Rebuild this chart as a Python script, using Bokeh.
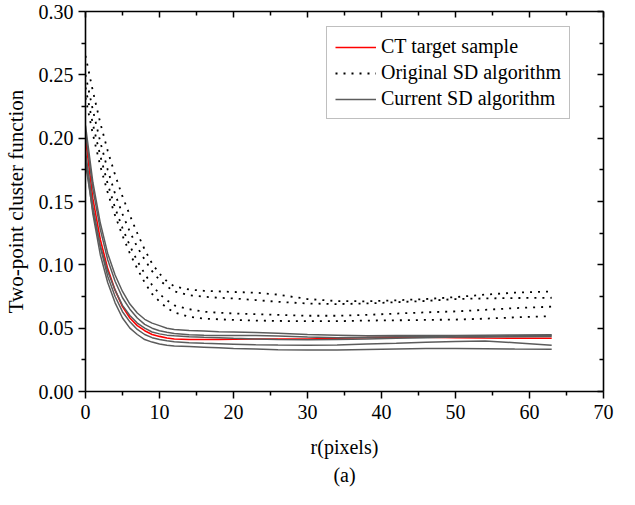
from bokeh.plotting import figure
from bokeh.models import Range1d, LinearAxis, FixedTicker, Legend, LegendItem, Title, CustomJSTickFormatter
from bokeh.embed import file_html
from bokeh.resources import INLINE

# ---- data ----
r = [0, 1, 2, 3, 4, 5, 6, 7, 8, 9, 10, 11, 12, 14, 16, 18, 20, 23, 26, 30,
     34, 38, 42, 46, 50, 54, 58, 63]

ct_target = [0.200, 0.152, 0.120, 0.097, 0.080, 0.067, 0.058, 0.052, 0.048, 0.045,
             0.0435, 0.0422, 0.0415, 0.041, 0.041, 0.041, 0.0412, 0.0415, 0.0415, 0.0415,
             0.042, 0.0425, 0.0428, 0.0428, 0.0425, 0.0422, 0.042, 0.042]

current_1 = [0.210, 0.165, 0.133, 0.109, 0.092, 0.079, 0.069, 0.062, 0.057, 0.054,
             0.052, 0.050, 0.049, 0.0482, 0.0477, 0.0472, 0.047, 0.0465, 0.046, 0.045,
             0.0445, 0.044, 0.0442, 0.0443, 0.0443, 0.0445, 0.0447, 0.0449]
current_2 = [0.205, 0.160, 0.128, 0.104, 0.087, 0.074, 0.065, 0.058, 0.053, 0.050,
             0.048, 0.0467, 0.0458, 0.0448, 0.0444, 0.0443, 0.0443, 0.0442, 0.0438, 0.043,
             0.0425, 0.0428, 0.0432, 0.0435, 0.0432, 0.043, 0.0432, 0.0435]
current_3 = [0.190, 0.146, 0.114, 0.091, 0.075, 0.063, 0.055, 0.049, 0.045, 0.0425,
             0.041, 0.040, 0.0393, 0.0385, 0.038, 0.0377, 0.0374, 0.037, 0.0367, 0.0366,
             0.0368, 0.0375, 0.038, 0.0388, 0.0395, 0.0398, 0.0385, 0.0366]
current_4 = [0.185, 0.140, 0.108, 0.086, 0.070, 0.058, 0.050, 0.045, 0.041, 0.039,
             0.0375, 0.0366, 0.036, 0.0355, 0.035, 0.0345, 0.034, 0.0335, 0.033, 0.0327,
             0.0328, 0.0332, 0.0336, 0.034, 0.034, 0.0338, 0.0335, 0.0333]
current_5 = [0.180, 0.142, 0.115, 0.095, 0.080, 0.068, 0.060, 0.054, 0.050, 0.047,
             0.0455, 0.0445, 0.044, 0.0432, 0.0428, 0.0425, 0.042, 0.0415, 0.041, 0.0408,
             0.041, 0.0415, 0.042, 0.0425, 0.043, 0.0435, 0.044, 0.0442]

original_1 = [0.265, 0.237, 0.212, 0.190, 0.171, 0.154, 0.139, 0.125, 0.112, 0.101,
              0.093, 0.087, 0.083, 0.0805, 0.0795, 0.079, 0.0786, 0.078, 0.0765, 0.073,
              0.0714, 0.0712, 0.072, 0.073, 0.0745, 0.0765, 0.078, 0.079]
original_2 = [0.250, 0.222, 0.197, 0.175, 0.156, 0.140, 0.126, 0.114, 0.104, 0.095,
              0.088, 0.083, 0.079, 0.076, 0.0748, 0.074, 0.0735, 0.0722, 0.0708, 0.0695,
              0.069, 0.0695, 0.0705, 0.0715, 0.073, 0.0735, 0.0738, 0.074]
original_3 = [0.240, 0.211, 0.186, 0.164, 0.145, 0.129, 0.115, 0.103, 0.093, 0.084,
              0.077, 0.072, 0.068, 0.065, 0.063, 0.0622, 0.0616, 0.061, 0.0605, 0.0598,
              0.0598, 0.0605, 0.0615, 0.0625, 0.0632, 0.0645, 0.0658, 0.067]
original_4 = [0.232, 0.203, 0.178, 0.157, 0.139, 0.123, 0.109, 0.097, 0.086, 0.077,
              0.071, 0.066, 0.0625, 0.059, 0.0575, 0.057, 0.0565, 0.056, 0.0557, 0.0555,
              0.0555, 0.056, 0.0562, 0.0565, 0.0568, 0.0575, 0.0585, 0.0595]

x_ticks = [0, 10, 20, 30, 40, 50, 60, 70]
x_minor = [5, 15, 25, 35, 45, 55, 65]
y_ticks = [0.00, 0.05, 0.10, 0.15, 0.20, 0.25, 0.30]
y_minor = [0.025, 0.075, 0.125, 0.175, 0.225, 0.275]
y_tick_labels = ["0.00", "0.05", "0.10", "0.15", "0.20", "0.25", "0.30"]

FONT = "Liberation Serif"

p = figure(width=619, height=489, output_backend="svg", toolbar_location=None,
           x_range=Range1d(0, 70), y_range=Range1d(0, 0.30),
           min_border_left=81, min_border_right=16, min_border_top=11, min_border_bottom=98,
           x_axis_label="r(pixels)", y_axis_label="Two-point cluster function")
p.outline_line_color = None
p.grid.visible = False
p.background_fill_color = "white"

orig_renderers = []
for ys in [original_1, original_2, original_3, original_4]:
    orig_renderers.append(p.line(r, ys, line_color="black", line_width=1.8, line_dash="2 6"))

ct_r = p.line(r, ct_target, line_color="#ff0000", line_width=1.6)

cur_renderers = []
for ys in [current_1, current_2, current_3, current_4, current_5]:
    cur_renderers.append(p.line(r, ys, line_color="#5c5c5c", line_width=1.5))

def style_axis(ax):
    ax.axis_line_color = "black"
    ax.axis_line_width = 1.6
    ax.major_tick_line_color = "black"
    ax.minor_tick_line_color = "black"
    ax.major_tick_line_width = 1.5
    ax.minor_tick_line_width = 1.5
    ax.major_label_text_font = FONT
    ax.major_label_text_font_size = "20px"
    ax.major_label_text_color = "black"
    ax.axis_label_text_font = FONT
    ax.axis_label_text_font_size = "20px"
    ax.axis_label_text_font_style = "normal"
    ax.axis_label_text_color = "black"

xa = p.xaxis[0]
xa.ticker = FixedTicker(ticks=x_ticks, minor_ticks=x_minor)
style_axis(xa)
xa.major_tick_out = 7
xa.major_tick_in = 0
xa.minor_tick_out = 4
xa.minor_tick_in = 0
xa.major_label_standoff = 6
xa.axis_label_standoff = 14

ya = p.yaxis[0]
ya.ticker = FixedTicker(ticks=y_ticks, minor_ticks=y_minor)
ya.major_label_overrides = {t: s for t, s in zip(y_ticks, y_tick_labels)}
style_axis(ya)
ya.axis_label_text_font_size = "21px"
ya.major_tick_out = 7
ya.major_tick_in = 0
ya.minor_tick_out = 4
ya.minor_tick_in = 0
ya.major_label_standoff = 5
ya.axis_label_standoff = 8

top = LinearAxis(ticker=FixedTicker(ticks=x_ticks, minor_ticks=x_minor))
right = LinearAxis(ticker=FixedTicker(ticks=y_ticks, minor_ticks=y_minor))
for ax in (top, right):
    style_axis(ax)
    ax.major_tick_in = 6
    ax.major_tick_out = 0
    ax.minor_tick_in = 4
    ax.minor_tick_out = 0
    ax.formatter = CustomJSTickFormatter(code="return ''")
    ax.major_label_text_font_size = "1px"
    ax.major_label_standoff = 0
    ax.axis_label_standoff = 0
p.add_layout(top, "above")
p.add_layout(right, "right")

legend = Legend(items=[
    LegendItem(label="CT target sample", renderers=[ct_r]),
    LegendItem(label="Original SD algorithm", renderers=[orig_renderers[0]]),
    LegendItem(label="Current SD algorithm", renderers=[cur_renderers[0]]),
], location=(241, 272))
legend.label_text_font = FONT
legend.label_text_font_size = "20px"
legend.label_text_color = "black"
legend.glyph_width = 41
legend.glyph_height = 20
legend.label_height = 20
legend.label_standoff = 5
legend.spacing = 3
legend.padding = 8
legend.margin = 0
legend.border_line_color = "#808080"
legend.border_line_width = 1.2
legend.background_fill_color = "white"
legend.background_fill_alpha = 1
p.add_layout(legend, "center")

cap = Title(text="(a)", align="center", text_font=FONT, text_font_size="20px",
            text_font_style="normal", text_color="black", standoff=2)
p.add_layout(cap, "below")

open("out.html", "w").write(file_html(p, INLINE))
